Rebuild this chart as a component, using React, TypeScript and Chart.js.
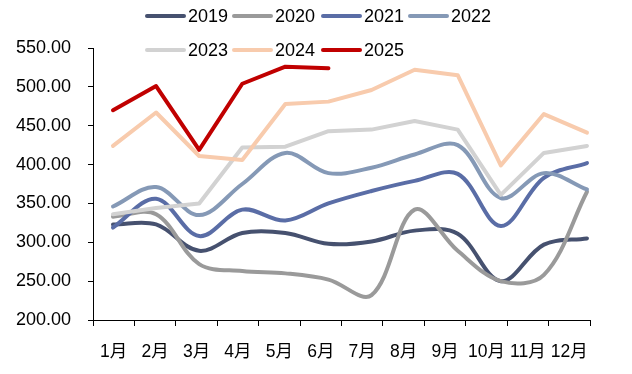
import React, { useEffect, useRef } from "react";
import { Chart, registerables } from "chart.js";

Chart.register(...registerables);

const MONTHS = ["1月", "2月", "3月", "4月", "5月", "6月", "7月", "8月", "9月", "10月", "11月", "12月"];
const YEARS = ["2019", "2020", "2021", "2022", "2023", "2024", "2025"];
const Y2019 = [323, 323, 289, 312, 312, 298, 301, 315, 311, 250, 297, 305];
const Y2020 = [333, 336, 272, 263, 260, 252, 232, 342, 289, 250, 258, 365];
const Y2021 = [319, 356, 308, 342, 328, 350, 366, 379, 388, 321, 383, 402];
const Y2022 = [346, 371, 335, 375, 415, 389, 396, 413, 425, 357, 389, 368];
const Y2023 = [336, 344, 350, 422, 423, 443, 445, 456, 445, 361, 415, 424];
const Y2024 = [424, 467, 411, 406, 478, 481, 496, 522, 515, 399, 465, 441];
const Y2025 = [470, 501, 419, 504, 526, 524];
const SERIES = [Y2019, Y2020, Y2021, Y2022, Y2023, Y2024, Y2025];
const COLORS = ["#46516F", "#9A9A9A", "#5A6DA6", "#8599B6", "#D2D2D2", "#F8CBAD", "#C00000"];
const SMOOTH = [true, true, true, true, false, false, false];

const FONT = "'Liberation Sans', Arial, 'Noto Sans CJK SC', sans-serif";

const legendPlugin = {
  id: "customLegend",
  afterDraw(chart: any) {
    const ctx = chart.ctx;
    const rows = [
      { y: 16, xs: [147, 234, 323, 410], idx: [0, 1, 2, 3] },
      { y: 50, xs: [147, 234, 323], idx: [4, 5, 6] },
    ];
    ctx.save();
    ctx.font = `18px ${FONT}`;
    ctx.textBaseline = "middle";
    ctx.textAlign = "left";
    for (const r of rows) {
      r.idx.forEach((di, k) => {
        const x = r.xs[k];
        ctx.strokeStyle = COLORS[di];
        ctx.lineWidth = 4;
        ctx.lineCap = "round";
        ctx.beginPath();
        ctx.moveTo(x, r.y);
        ctx.lineTo(x + 37, r.y);
        ctx.stroke();
        ctx.fillStyle = "#000";
        ctx.fillText(YEARS[di], x + 41, r.y + 1);
      });
    }
    ctx.restore();
  },
};

export default function App() {
  const ref = useRef<HTMLCanvasElement>(null);
  useEffect(() => {
    document.body.style.margin = "0";
    const chart = new Chart(ref.current!, {
      type: "line",
      data: {
        labels: MONTHS,
        datasets: SERIES.map((s, i) => ({
          label: YEARS[i],
          data: s.map((v, j) => ({ x: j + 1, y: v })),
          borderColor: COLORS[i],
          backgroundColor: COLORS[i],
          borderWidth: 4,
          pointRadius: 0,
          tension: SMOOTH[i] ? 0.35 : 0,
          borderCapStyle: "round",
          borderJoinStyle: "round",
          xAxisID: "x",
          yAxisID: "y",
          order: 10 - i,
          fill: false,
        })),
      },
      options: {
        animation: false,
        responsive: false,
        maintainAspectRatio: false,
        layout: { padding: { left: 0, right: 42, top: 48, bottom: 0 } },
        plugins: { legend: { display: false }, tooltip: { enabled: false } },
        scales: {
          x: {
            type: "linear",
            display: false,
            min: 0.536,
            max: 12.07,
          },
          xc: {
            type: "category",
            position: "bottom",
            labels: MONTHS,
            offset: true,
            grid: { offset: true, drawOnChartArea: false, drawTicks: true, tickLength: 6, color: "#000" },
            border: { display: true, color: "#000", width: 1 },
            ticks: { color: "#000", font: { family: FONT, size: 17.5 }, padding: 16, maxRotation: 0, autoSkip: false },
            afterFit(s: any) { s.height = 54; },
          },
          y: {
            type: "linear",
            min: 200,
            max: 550,
            grid: { drawOnChartArea: false, drawTicks: true, tickLength: 5, color: "#000" },
            border: { display: true, color: "#000", width: 1 },
            ticks: {
              stepSize: 50,
              color: "#000",
              padding: 17,
              font: { family: FONT, size: 18 },
              callback: (v: any) => Number(v).toFixed(2),
            },
            afterFit(s: any) { s.width = 93; },
          },
        },
      },
      plugins: [legendPlugin],
    });
    return () => chart.destroy();
  }, []);
  return (
    <div style={{ width: 632, height: 374, background: "#fff" }}>
      <canvas ref={ref} width={632} height={374} style={{ width: 632, height: 374, display: "block" }} />
    </div>
  );
}
